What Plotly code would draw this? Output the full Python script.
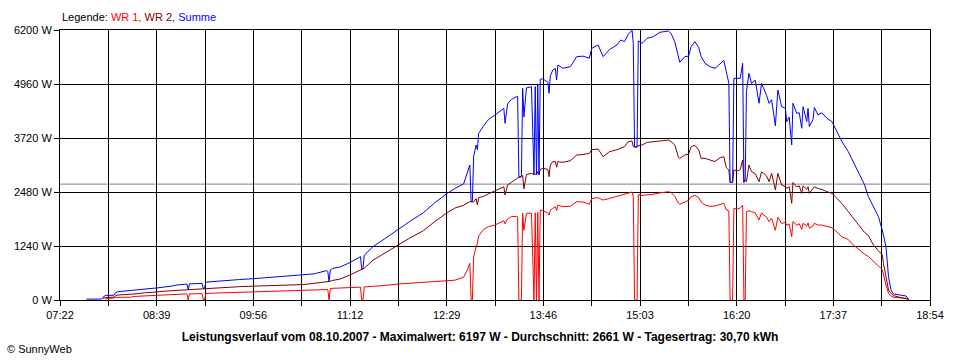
import plotly.graph_objects as go

# ---- data (08.10.2007) ----
times = ["07:43","07:55","07:56","07:58","08:05","08:06","08:08","08:19","08:20","08:28",
         "08:30","08:39","08:40","08:51","08:55","09:01","09:03","09:04","09:05","09:15",
         "09:16","09:17","09:18","09:27","09:35","09:45","09:56","10:06","10:14","10:25",
         "10:36","10:44","10:54","10:55","10:56","10:57","10:59","11:05","11:13","11:21",
         "11:22","11:23","11:24","11:31","11:41","11:51","12:00","12:11","12:20","12:30",
         "12:36","12:43","12:46","12:48","12:49","12:50","12:51","12:53","12:54","12:55",
         "12:59","13:03","13:08","13:15","13:16","13:18","13:21","13:25","13:26","13:27",
         "13:29","13:30","13:31","13:33","13:37","13:39","13:40","13:41","13:42","13:43",
         "13:44","13:46","13:50","13:51","13:52","13:54","13:56","13:57","13:58","14:02",
         "14:08","14:13","14:18","14:23","14:25","14:30","14:34","14:39","14:45","14:48",
         "14:51","14:54","14:57","14:58","14:59","15:01","15:02","15:05","15:09","15:14",
         "15:19","15:26","15:28","15:31","15:34","15:35","15:39","15:42","15:44","15:47",
         "15:50","15:52","15:55","15:59","16:03","16:07","16:10","16:12","16:14","16:15",
         "16:17","16:18","16:21","16:23","16:25","16:26","16:27","16:28","16:30","16:32",
         "16:35","16:38","16:40","16:42","16:44","16:46","16:48","16:51","16:53","16:56",
         "16:59","17:00","17:02","17:04","17:05","17:08","17:10","17:12","17:13","17:16",
         "17:17","17:18","17:21","17:22","17:25","17:28","17:32","17:36","17:40","17:44",
         "17:49","17:53","17:58","18:02","18:05","18:09","18:13","18:16","18:17","18:19",
         "18:21","18:23","18:25","18:30","18:35","18:37"]

summe = [20,22,60,105,110,160,190,215,230,250,
         255,268,280,320,345,360,367,235,370,380,
         265,270,410,430,452,470,490,515,536,555,
         574,600,674,660,420,690,727,760,865,995,
         712,715,1030,1225,1420,1623,1800,2005,2230,2449,
         2560,2664,2909,3100,2258,2258,3300,3560,3450,3827,
         4000,4149,4248,4401,4057,4500,4608,4669,4680,2820,
         2832,4860,4200,4870,4898,2880,4900,2870,4950,2880,
         5068,5080,5000,4746,5150,5281,5319,5051,5396,5320,
         5358,5588,5600,5550,5779,5856,5588,5750,5856,5970,
         5932,6101,6197,5894,3520,3510,5950,5894,6009,6047,
         6147,6177,6124,5932,5550,5458,5588,5600,5817,5932,
         5800,5588,5435,5358,5320,5435,5500,5243,4975,2700,
         2700,5090,5100,5090,5435,2700,2750,4784,5205,4975,
         5050,4517,4975,4850,4700,4517,4600,4000,4822,4440,
         4400,4095,4200,3559,4517,4287,4300,3943,4440,4100,
         4400,3980,4150,4420,4248,4300,4172,4095,3865,3635,
         3406,3176,2909,2641,2373,2143,1913,1607,1493,1225,
         536,230,138,115,92,15]

wr2 = [None,None,35,55,65,95,115,130,135,160,
       168,185,191,214,222,230,232,232,233,262,
       265,266,266,275,290,306,318,329,336,344,
       355,383,421,420,420,430,450,482,580,700,
       712,715,730,915,1090,1263,1420,1590,1800,2005,
       2110,2175,2230,2258,2258,2250,2250,2330,2181,2350,
       2380,2440,2510,2600,2411,2641,2700,2771,2800,2820,
       2832,2860,2550,2880,2909,2880,2900,2870,2950,2880,
       3000,3024,3000,2832,3100,3180,3176,3050,3176,3161,
       3200,3330,3340,3368,3450,3467,3291,3406,3450,3483,
       3520,3636,3650,3521,3520,3510,3540,3560,3620,3630,
       3650,3674,3640,3560,3268,3250,3330,3350,3520,3552,
       3450,3253,3253,3215,3180,3268,3290,3039,2985,2700,
       2700,2985,2970,2990,3215,2700,2750,2717,3100,2950,
       2900,2717,2940,2900,2850,2717,2909,2526,2909,2640,
       2600,2564,2600,2220,2700,2600,2620,2450,2620,2540,
       2600,2450,2560,2600,2560,2540,2488,2449,2334,2210,
       2029,1875,1684,1550,1480,1263,1130,1040,842,536,
       230,150,100,61,38,15]

wr1 = [None,None,None,25,40,55,60,65,80,92,
       95,110,115,130,138,138,140,0,140,145,
       0,0,150,160,168,178,191,198,205,214,
       222,230,245,240,0,260,268,275,285,295,
       0,0,300,310,335,367,385,410,428,444,
       455,521,689,842,0,0,995,1225,1300,1470,
       1623,1684,1722,1821,1750,1860,1913,1920,1910,0,
       0,1990,1600,1990,1995,0,2000,0,2010,0,
       2067,2050,2000,1950,2060,2105,2143,2050,2181,2143,
       2150,2258,2250,2200,2330,2350,2296,2330,2380,2411,
       2420,2449,2480,2380,0,0,2420,2400,2411,2430,
       2460,2487,2470,2380,2220,2200,2250,2290,2370,2403,
       2350,2250,2181,2150,2160,2190,2220,2067,2050,0,
       0,2100,2090,2110,2181,0,0,2029,2050,2029,
       2000,1837,2000,1950,1900,1798,1875,1600,1900,1760,
       1780,1722,1740,1454,1800,1720,1750,1620,1760,1700,
       1770,1650,1700,1760,1722,1720,1684,1660,1560,1450,
       1390,1263,1148,1050,1000,880,780,700,574,344,
       153,90,61,50,40,15]

x_tick_labels = ["07:22", "08:39", "09:56", "11:12", "12:29",
                 "13:46", "15:03", "16:20", "17:37", "18:54"]
y_tick_values = [0, 1240, 2480, 3720, 4960, 6200]
average_w = 2661

x_start = 7 * 60 + 22    # 07:22
x_end = 18 * 60 + 54     # 18:54


def to_min(s):
    h, m = s.split(":")
    return int(h) * 60 + int(m)


xmin = [to_min(t) for t in times]

n_int = 2 * (len(x_tick_labels) - 1)
tickvals = [x_start + i * (x_end - x_start) / n_int for i in range(n_int + 1)]
ticktext = []
for i in range(n_int + 1):
    ticktext.append(x_tick_labels[i // 2] if i % 2 == 0 else "")

FONT = "Liberation Sans, Arial, sans-serif"

fig = go.Figure()
fig.add_trace(go.Scatter(x=xmin, y=wr1, mode="lines", name="WR 1",
                         line=dict(color="#FF0000", width=1)))
fig.add_trace(go.Scatter(x=xmin, y=wr2, mode="lines", name="WR 2",
                         line=dict(color="#800000", width=1)))
fig.add_trace(go.Scatter(x=xmin, y=summe, mode="lines", name="Summe",
                         line=dict(color="#0000FF", width=1)))

fig.add_shape(type="line", xref="paper", x0=0, x1=1, yref="y",
              y0=average_w, y1=average_w, line=dict(color="#808080", width=1),
              layer="below")

fig.update_layout(
    width=960, height=360,
    margin=dict(l=60, r=30, t=30, b=60),
    paper_bgcolor="white", plot_bgcolor="white",
    showlegend=False,
    font=dict(family=FONT, size=11, color="black"),
    title=dict(
        text="<b>Leistungsverlauf vom 08.10.2007 - Maximalwert: 6197 W - "
             "Durchschnitt: 2661 W - Tagesertrag: 30,70 kWh</b>",
        x=0.5, xref="container", xanchor="center",
        y=1 - 337 / 360, yref="container", yanchor="middle",
        font=dict(family=FONT, size=12, color="black")),
    xaxis=dict(range=[x_start, x_end], tickmode="array", tickvals=tickvals,
               ticktext=ticktext, showgrid=True, gridcolor="black", gridwidth=1,
               ticks="outside", ticklen=5, tickcolor="black",
               showline=True, linecolor="black", linewidth=1, mirror=True,
               zeroline=False, fixedrange=True),
    yaxis=dict(range=[0, 6200], tickmode="array", tickvals=y_tick_values,
               ticktext=[f"{v} W" for v in y_tick_values],
               showgrid=True, gridcolor="black", gridwidth=1,
               ticks="outside", ticklen=5, tickcolor="black",
               showline=True, linecolor="black", linewidth=1, mirror=True,
               zeroline=False, fixedrange=True),
    annotations=[
        dict(xref="paper", yref="paper", x=0, y=(300 - 17) / 270,
             xanchor="left", yanchor="middle", showarrow=False,
             text="Legende: <span style='color:#FF0000'>WR 1,</span> "
                  "<span style='color:#800000'>WR 2,</span> "
                  "<span style='color:#0000FF'>Summe</span>",
             font=dict(family=FONT, size=11, color="black")),
        dict(xref="paper", yref="paper", x=(5 - 60) / 870, y=(300 - 349) / 270,
             xanchor="left", yanchor="middle", showarrow=False,
             text="© SunnyWeb", font=dict(family=FONT, size=11, color="black")),
    ],
)

fig.write_html("out.html", config={"displayModeBar": False},
               post_script="document.body.style.margin='0';"
                           "document.body.style.overflow='hidden';")
